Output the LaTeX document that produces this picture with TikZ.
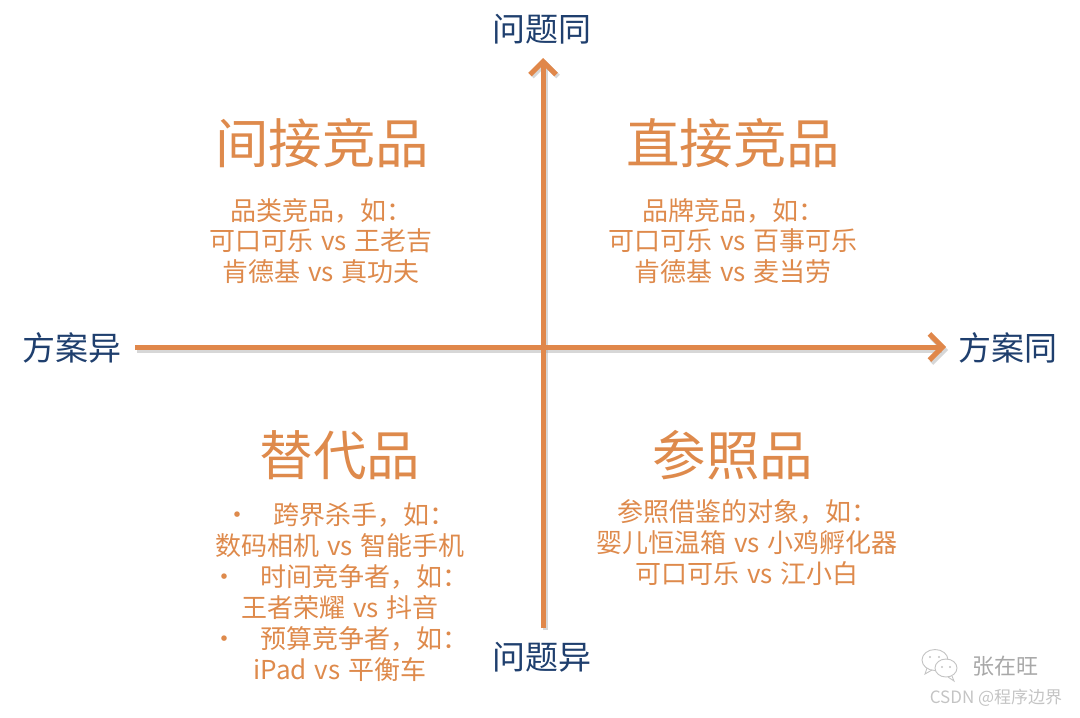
\documentclass[tikz,border=0pt]{standalone}
\usepackage{fontspec}
\setmainfont{Noto Sans CJK SC}
\usetikzlibrary{arrows.meta}
\definecolor{axisorange}{HTML}{E0874A}
\definecolor{txtorange}{HTML}{DE8A4C}
\definecolor{axisblue}{HTML}{1F3F6E}
\definecolor{wmgray}{HTML}{A8A8A8}
\definecolor{wmlight}{HTML}{C4C4C4}
\newcommand{\vsx}{\hspace{0.3em}vs\hspace{0.3em}}
\newcommand{\bul}{•\hspace{0.9em}}
\tikzset{
  axisline/.style={draw=axisorange, line width=5pt, -{Straight Barb[length=13pt,width=26pt,line width=5pt]}},
  axisshadow/.style={draw=black!35, opacity=0.45, line width=5pt, -{Straight Barb[length=13pt,width=26pt,line width=5pt]}},
  axislabel/.style={text=axisblue, font=\fontsize{33}{38}\selectfont, inner sep=0pt},
  quadtitle/.style={text=txtorange, font=\fontsize{53.5}{60}\selectfont, inner sep=0pt},
  quadtext/.style={text=txtorange, font=\fontsize{26}{30.5}\selectfont, align=center, inner sep=0pt},
  quadtextb/.style={text=txtorange, font=\fontsize{26}{31}\selectfont, align=center, inner sep=0pt},
}
\begin{document}
\begin{tikzpicture}[x=1pt,y=-1pt]
\useasboundingbox (0,0) rectangle (1080,718);
% axis labels
\node[axislabel] (top) at (542,29) {问题同};
\node[axislabel] (bottom) at (542,657) {问题异};
\node[axislabel] (left) at (72,348) {方案异};
\node[axislabel] (right) at (1008,348) {方案同};
% axis endpoints
\coordinate (hs) at (135,347);
\coordinate (he) at (946,347);
\coordinate (vs) at (543,628);
\coordinate (ve) at (543,58);
% shadows
\draw[axisshadow] ([shift={(2,3)}]hs) -- ([shift={(2,3)}]he);
\draw[axisshadow] ([shift={(2,2)}]vs) -- ([shift={(2,2)}]ve);
% axes
\draw[axisline] (hs) -- (he);
\draw[axisline] (vs) -- (ve);
% quadrant titles
\node[quadtitle] (q1) at (322,143) {间接竞品};
\node[quadtitle] (q2) at (733,143) {直接竞品};
\node[quadtitle] (q3) at (340,455) {替代品};
\node[quadtitle] (q4) at (733,455) {参照品};
% quadrant texts
\node[quadtext, anchor=north] (t1) at (321,198) {品类竞品，如：\\可口可乐\vsx 王老吉\\肯德基\vsx 真功夫};
\node[quadtext, anchor=north] (t2) at (733,198) {品牌竞品，如：\\可口可乐\vsx 百事可乐\\肯德基\vsx 麦当劳};
\node[quadtextb, anchor=north] (t3) at (340,502) {\bul 跨界杀手，如：\\数码相机\vsx 智能手机\\\bul 时间竞争者，如：\\王者荣耀\vsx 抖音\\\bul 预算竞争者，如：\\iPad\vsx 平衡车};
\node[quadtextb, anchor=north] (t4) at (747,499) {参照借鉴的对象，如：\\婴儿恒温箱\vsx 小鸡孵化器\\可口可乐\vsx 江小白};
% watermark
\begin{scope}[draw=wmlight, line width=0.9pt]
  \draw[fill=white] (935,660) ellipse (13pt and 10.5pt);
  \draw (927,668) -- (925,674) -- (932,670);
  \draw[fill=white] (946,668) ellipse (11pt and 9pt);
  \draw (952,676) -- (954,681) -- (948,677);
  \fill[wmlight] (930,657) circle (1.2pt) (939,657) circle (1.2pt);
  \fill[wmlight] (942,667) circle (1.1pt) (950,667) circle (1.1pt);
\end{scope}
\node[text=wmgray, font=\fontsize{22}{26}\selectfont, inner sep=0pt] (wm1) at (1005,666) {张在旺};
\node[text=wmlight, font=\fontsize{17}{20}\selectfont, inner sep=0pt] (wm2) at (996,698) {CSDN @程序边界};
\end{tikzpicture}
\end{document}
